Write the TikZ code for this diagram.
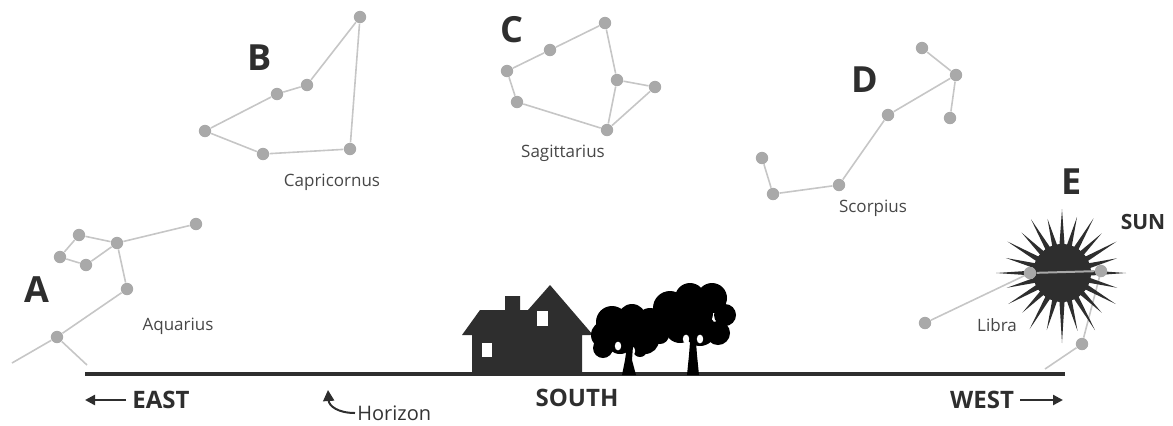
\documentclass[tikz,border=0pt]{standalone}
\usepackage{fontspec}
\setmainfont{Open Sans}
\usepackage{tikz}
\usetikzlibrary{arrows.meta}
\definecolor{stargray}{HTML}{A9A9A9}
\definecolor{linegray}{HTML}{C6C6C6}
\definecolor{inkgray}{HTML}{2E2E2E}
\tikzset{
	starnode/.style={
			shape=circle,
			fill=stargray,
			minimum size=6.2pt,
			inner sep=0pt
		},
	starline/.style={
			draw=linegray,
			line width=0.8pt
		}
}
\tikzset{
	letternode/.style={
			font=\fontsize{18}{18}\selectfont\bfseries,
			text=inkgray,
			inner sep=0pt
		},
	namenode/.style={
			font=\fontsize{8.5}{9}\selectfont,
			text=black!72,
			inner sep=1pt
		},
	compassnode/.style={
			font=\fontsize{12}{12}\selectfont\bfseries,
			text=inkgray,
			inner sep=3pt
		},
	compassarrow/.style={
			draw=inkgray,
			line width=1.2pt,
			-{Triangle[length=5pt,width=5pt]}
		}
}

\begin{document}
\begin{tikzpicture}[x=0.5pt,y=-0.5pt]
  \useasboundingbox (0,0) rectangle (1173,425);

  % Aquarius
  \node[starnode] (a1) at (196,224) {};
  \node[starnode] (a2) at (117,243) {};
  \node[starnode] (a3) at (79,235) {};
  \node[starnode] (a4) at (60,257) {};
  \node[starnode] (a5) at (86,265) {};
  \node[starnode] (a6) at (127,289) {};
  \node[starnode] (a7) at (57,337) {};
  \coordinate (a8) at (12,363);
  \coordinate (a9) at (87,365);
  \draw[starline] (a1) -- (a2) -- (a3) -- (a4) -- (a5) -- (a2) -- (a6) -- (a7) -- (a8);
  \draw[starline] (a7) -- (a9);

  % Capricornus
  \node[starnode] (b1) at (360,17) {};
  \node[starnode] (b2) at (307,85) {};
  \node[starnode] (b3) at (277,94) {};
  \node[starnode] (b4) at (205,131) {};
  \node[starnode] (b5) at (263,154) {};
  \node[starnode] (b6) at (350,149) {};
  \draw[starline] (b1) -- (b2) -- (b3) -- (b4) -- (b5) -- (b6) -- (b1);

  % Sagittarius
  \node[starnode] (c1) at (605,23) {};
  \node[starnode] (c2) at (550,50) {};
  \node[starnode] (c3) at (507,71) {};
  \node[starnode] (c4) at (517,102) {};
  \node[starnode] (c5) at (607,130) {};
  \node[starnode] (c6) at (617,80) {};
  \node[starnode] (c7) at (655,87) {};
  \draw[starline] (c1) -- (c2) -- (c3) -- (c4) -- (c5) -- (c6) -- (c1);
  \draw[starline] (c6) -- (c7) -- (c5);

  % Scorpius
  \node[starnode] (d1) at (922,48) {};
  \node[starnode] (d2) at (956,75) {};
  \node[starnode] (d3) at (950,118) {};
  \node[starnode] (d4) at (888,115) {};
  \node[starnode] (d5) at (839,185) {};
  \node[starnode] (d6) at (773,194) {};
  \node[starnode] (d7) at (762,158) {};
  \draw[starline] (d1) -- (d2) -- (d3);
  \draw[starline] (d2) -- (d4) -- (d5) -- (d6) -- (d7);

  % Libra, partly behind the sun
  \coordinate (l1) at (1030,273);
  \coordinate (l2) at (1101,271);
  \node[starnode] (l3) at (925,323) {};
  \node[starnode] (l4) at (1082,344) {};
  \coordinate (l5) at (1045,369);
  \draw[starline] (l1) -- (l3);
  \draw[starline] (l2) -- (l4) -- (l5);

  % sun
  \coordinate (sun) at (1062,273);
  \begin{scope}[shift={(sun)}]
    \fill[inkgray] (0,0) circle (14.5pt);
    \foreach \a/\r in {0/64,15/57,30/62,45/56,60/66,75/60,90/70,105/59,120/65,135/56,150/62,165/57,
                       180/66,195/58,210/63,225/57,240/62,255/56,270/64,285/58,300/63,315/56,330/63,345/57}
      \fill[inkgray] ({\a-6}:26) -- (\a:\r) -- ({\a+6}:26) -- cycle;
  \end{scope}
  \node[starnode] (l1n) at (l1) {};
  \node[starnode] (l2n) at (l2) {};
  \draw[draw=stargray, line width=1pt] (l1n) -- (l2n);

  % horizon
  \coordinate (h1) at (85,374);
  \coordinate (h2) at (1065,374);
  \draw[draw=inkgray, line width=2pt] (h1) -- (h2);

  % house
  \fill[inkgray] (472,375) -- (472,335) -- (462,335) -- (480,310) -- (505,310) -- (505,296) -- (520,296)
    -- (520,310) -- (528,310) -- (550,285) -- (593,335) -- (582,335) -- (582,375) -- cycle;
  \fill[white] (482,343) rectangle (492,357);
  \fill[white] (537,311) rectangle (548,326);

  % trees
  \fill[black] (605,335) circle (7pt) (612,322) circle (8pt) (632,318) circle (7pt) (650,322) circle (7pt)
    (660,335) circle (4.5pt) (645,340) circle (7pt) (620,340) circle (7pt) (603,348) circle (5pt)
    (640,350) circle (3.5pt) (630,330) circle (9pt);
  \fill[black] (670,308) circle (8.5pt) (690,298) circle (7.5pt) (712,298) circle (7.5pt)
    (725,315) circle (5.5pt) (718,333) circle (6pt) (700,330) circle (8pt) (680,328) circle (7.5pt)
    (695,313) circle (9pt) (662,322) circle (5pt);
  \fill[white] (618,346) ellipse (1.6pt and 2.2pt) (632,351) ellipse (1.6pt and 2.2pt);
  \fill[white] (686,339) ellipse (1.6pt and 2.2pt) (700,339) ellipse (1.6pt and 2.2pt);
  \fill[black] (622,375) -- (625,360) -- (627,346) -- (633,346) -- (632,360) -- (636,375) -- cycle;
  \fill[black] (687,375) -- (689,355) -- (690,342) -- (696,342) -- (697,355) -- (699,375) -- cycle;

  % labels
  \node[letternode] (la) at (37,290) {A};
  \node[letternode] (lb) at (260,58) {B};
  \node[letternode] (lc) at (512,30) {C};
  \node[letternode] (ld) at (865,80) {D};
  \node[letternode] (le) at (1072,182) {E};

  \node[namenode] (aquarius) at (178,326) {Aquarius};
  \node[namenode] (capricornus) at (332,182) {Capricornus};
  \node[namenode] (sagittarius) at (563,153) {Sagittarius};
  \node[namenode] (scorpius) at (873,208) {Scorpius};
  \node[namenode] (libra) at (997,325) {Libra};
  \node[compassnode, font=\fontsize{10.5}{11}\selectfont\bfseries] (sunlabel) at (1143,222) {SUN};

  \node[compassnode] (east) at (161,400) {EAST};
  \node[compassnode] (south) at (577,398) {SOUTH};
  \node[compassnode] (west) at (982,400) {WEST};
  \coordinate (eastend) at (85,400);
  \coordinate (westend) at (1063,400);
  \draw[compassarrow] (east) -- (eastend);
  \draw[compassarrow] (west) -- (westend);

  \node[namenode, font=\fontsize{10}{10}\selectfont, anchor=west, text=black!80] (horizon) at (355,413) {Horizon};
  \coordinate (horizontip) at (328,390);
  \draw[draw=inkgray, line width=1pt, -{Triangle[length=5.5pt,width=5.5pt]}]
    (horizon.west) .. controls (338,413) and (329,406) .. (horizontip);
\end{tikzpicture}
\end{document}
